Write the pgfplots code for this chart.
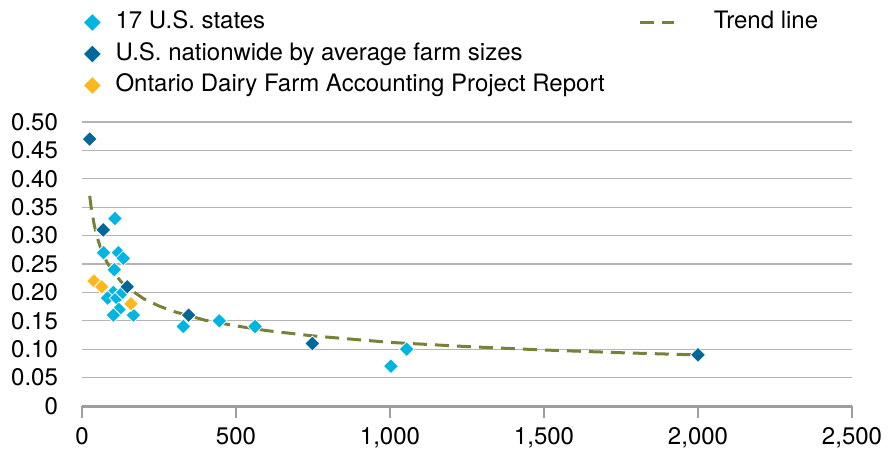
\documentclass[border=0pt]{standalone}
\usepackage{pgfplots}
\pgfplotsset{compat=1.18}
\usepackage{fontspec}
\setmainfont{TeX Gyre Heros}

\definecolor{stateblue}{RGB}{0,181,226}
\definecolor{natblue}{RGB}{0,103,154}
\definecolor{ontorange}{RGB}{255,184,28}
\definecolor{trendolive}{RGB}{122,128,56}
\definecolor{gridgray}{RGB}{180,180,180}
\definecolor{axisgray}{RGB}{158,158,158}

\pgfplotsset{
  dia/.style={only marks, mark=square*, mark size=2.65pt,
    mark options={rotate=45, fill=#1, draw=white, line width=0.4pt}},
  trend/.style={trendolive, line width=1.5pt, dash pattern=on 7pt off 4pt},
  trendleg/.style={legend image code/.code={\draw[##1] (0pt,0pt) -- (17pt,0pt);}},
  markleg/.style={legend image code/.code={
    \draw[##1, mark size=3.2pt] plot coordinates {(0pt,0pt)};}},
}

\begin{document}
\begin{tikzpicture}
\begin{axis}[
  name=ax,
  scale only axis,
  width=385pt, height=142pt,
  xmin=0, xmax=2500, ymin=0, ymax=0.5,
  axis x line*=bottom, axis y line*=left,
  y axis line style={draw=none},
  x axis line style={axisgray, line width=1.5pt},
  xtick={0,500,1000,1500,2000,2500},
  xticklabels={0,500,{1,000},{1,500},{2,000},{2,500}},
  ytick={0,0.05,0.10,0.15,0.20,0.25,0.30,0.35,0.40,0.45,0.50},
  yticklabels={0,0.05,0.10,0.15,0.20,0.25,0.30,0.35,0.40,0.45,0.50},
  ymajorgrids, grid style={gridgray, line width=0.6pt},
  tick align=outside, major tick length=6pt,
  xtick style={axisgray, line width=0.6pt},
  ytick style={draw=none},
  tick label style={font=\fontsize{12}{14}\selectfont},
  yticklabel style={xshift=-2.5pt},
  xticklabel style={yshift=-1pt},
  legend columns=2,
  legend cell align=left,
  legend style={draw=none, fill=none, inner sep=0pt,
    at={(0.0013,1.408)}, anchor=north west,
    font=\fontsize{12}{14}\selectfont,
    nodes={inner sep=2pt, text height=9pt, text depth=3pt},
    row sep=-0.25pt,
    /tikz/column 1/.style={column sep=5pt},
    /tikz/column 2/.style={column sep=15pt},
    /tikz/column 3/.style={column sep=17pt}},
]
% trend line (power fit)
\addplot[trend, forget plot] coordinates {
  (25,0.370) (30,0.349) (40,0.318) (50,0.296) (60,0.279) (80,0.254)
  (100,0.237) (125,0.220) (150,0.2075) (200,0.189) (250,0.176)
  (300,0.166) (400,0.151) (500,0.141) (600,0.1327) (750,0.1234)
  (1000,0.112) (1250,0.1046) (1500,0.0986) (1750,0.0938) (2000,0.0899)
};
% 17 U.S. states
\addplot[dia=stateblue, forget plot] coordinates {
  (107,0.33) (70,0.27) (118,0.27) (134,0.26) (105,0.24)
  (102,0.20) (83,0.19) (113,0.19) (132,0.20) (120,0.17)
  (102,0.16) (167,0.16) (329,0.14) (446,0.15) (562,0.14)
  (1003,0.07) (1054,0.10)
};
% U.S. nationwide by average farm sizes
\addplot[dia=natblue, forget plot] coordinates {
  (25,0.47) (69,0.31) (147,0.21) (346,0.16) (748,0.11) (2000,0.09)
};
% Ontario
\addplot[dia=ontorange, forget plot] coordinates {
  (39,0.22) (64,0.21) (159,0.18)
};
\addlegendimage{dia=stateblue, markleg}
\addlegendentry{17 U.S. states}
\addlegendimage{trend, trendleg}
\addlegendentry{Trend line}
\addlegendimage{dia=natblue, markleg}
\addlegendentry{U.S. nationwide by average farm sizes}
\addlegendimage{empty legend}
\addlegendentry{}
\addlegendimage{dia=ontorange, markleg}
\addlegendentry{Ontario Dairy Farm Accounting Project Report}
\end{axis}
\pgfresetboundingbox
\path ([shift={(-41pt,-22pt)}]ax.south west) rectangle ([shift={(19.5pt,61pt)}]ax.north east);
\end{tikzpicture}
\end{document}
